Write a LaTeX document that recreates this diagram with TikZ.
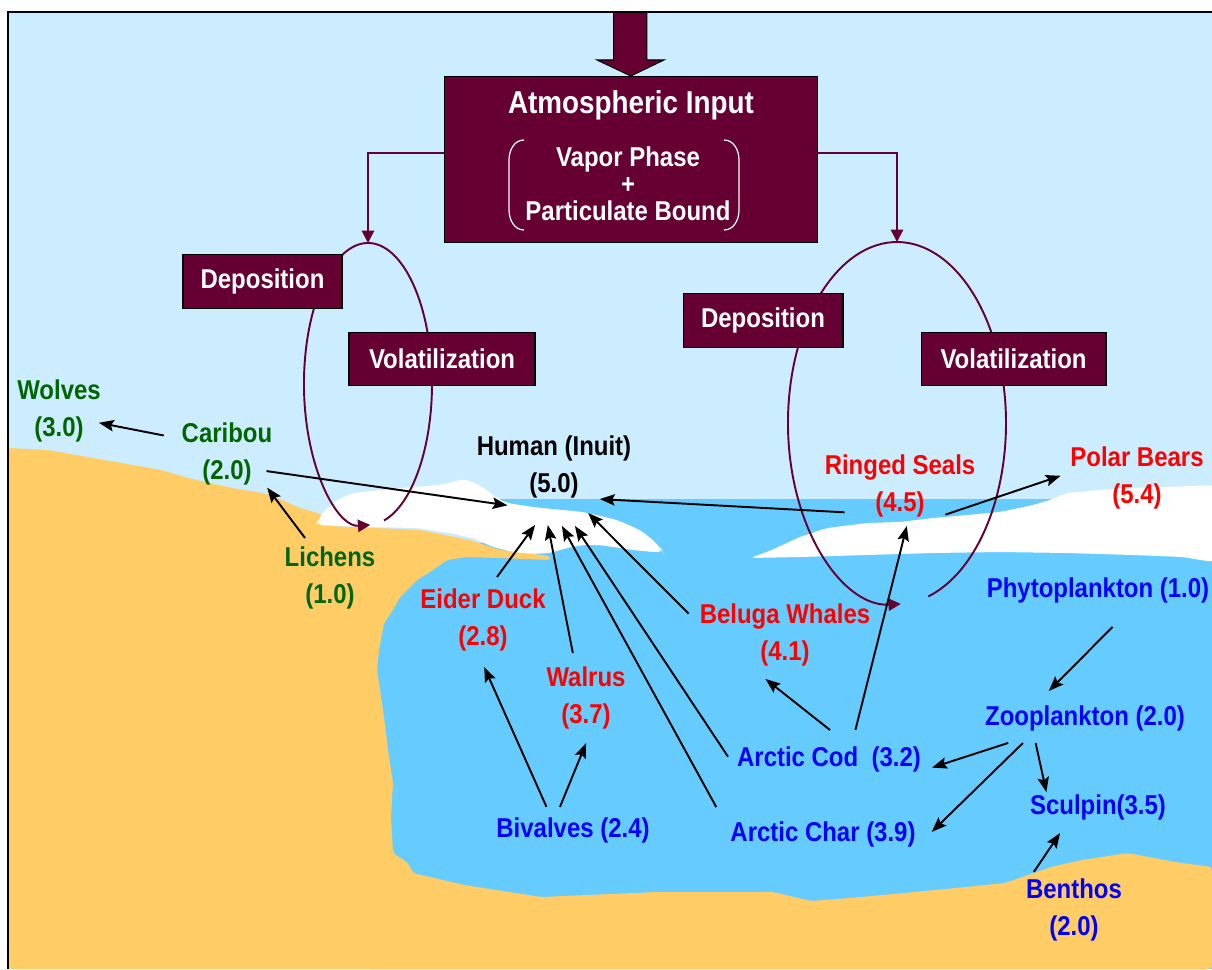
\documentclass[tikz,border=0pt]{standalone}
\usepackage{fontspec}
\setmainfont{Liberation Sans}[FakeStretch=0.88]
\usetikzlibrary{arrows.meta}
\definecolor{sky}{RGB}{204,236,255}
\definecolor{sea}{RGB}{102,204,255}
\definecolor{sand}{RGB}{255,204,102}
\definecolor{wine}{RGB}{102,0,51}
\definecolor{leaf}{RGB}{0,102,0}
\begin{document}
\begin{tikzpicture}[x=0.02cm,y=-0.02cm,
  lbl/.style={font=\bfseries\fontsize{15.5}{21.5}\selectfont,align=center,inner sep=1pt},
  wbox/.style={fill=wine,draw=black,line width=0.6pt,text=white,font=\bfseries\fontsize{15.5}{18}\selectfont},
  arr/.style={-{Stealth[length=8.5pt,width=6.5pt,inset=1.5pt]},line width=1.1pt},
  loopline/.style={wine,line width=1.1pt,-{Triangle[length=7pt,width=7pt]}}]
  \useasboundingbox (0,0) rectangle (1212,969);
  \clip (0,0) rectangle (1212,969);
  % sky, sea, land and ice
  \fill[white] (0,0) rectangle (1212,969);
  \fill[sky] (8,12) rectangle (1212,969);
  \fill[sea] (500,499) -- (1212,499) -- (1212,969) -- (370,969) -- (370,560) -- (500,540) -- cycle;
  \fill[sand,rounded corners=2pt] (8,448) -- (48,450) -- (161,470) -- (188,478) -- (232,488) -- (268,494)
    -- (300,508) -- (321,514) -- (330,526) -- (420,530) -- (470,540) -- (500,550) -- (550,556)
    -- (550,560) -- (500,558) -- (467,557) -- (447,560) -- (433,570) -- (417,580) -- (407,590)
    -- (400,597) -- (393,610) -- (384,623) -- (379,650) -- (377,670) -- (384,717) -- (388,750)
    -- (393,783) -- (391,817) -- (393,853) -- (408,863) -- (413,873) -- (464,885) -- (541,897)
    -- (657,892) -- (773,892) -- (811,901) -- (850,898) -- (904,893) -- (966,887) -- (1005,883)
    -- (1051,867) -- (1082,860) -- (1128,853) -- (1175,862) -- (1212,867) -- (1212,969) -- (8,969) -- cycle;
  \fill[white,rounded corners=3pt] (317,523) -- (323,512) -- (337,500) -- (353,493) -- (400,488)
    -- (440,485) -- (453,482) -- (463,479) -- (473,482) -- (487,490) -- (497,498) -- (507,503)
    -- (533,507) -- (583,512) -- (617,520) -- (640,530) -- (653,540) -- (662,550) -- (663,552)
    -- (653,552) -- (633,550) -- (600,545) -- (583,545) -- (567,548) -- (550,553) -- (533,554)
    -- (513,552) -- (493,547) -- (473,538) -- (450,533) -- (417,528) -- (367,527) -- (317,525) -- cycle;
  \fill[white,rounded corners=3pt] (750,558) -- (767,552) -- (800,537) -- (827,528) -- (867,523)
    -- (900,522) -- (933,518) -- (967,515) -- (1000,512) -- (1033,505) -- (1050,500) -- (1067,493)
    -- (1100,490) -- (1133,488) -- (1167,487) -- (1215,485) -- (1215,562) -- (1200,560) -- (1183,557)
    -- (1133,555) -- (1067,553) -- (1000,552) -- (933,553) -- (867,555) -- (800,557) -- cycle;
  % deposition / volatilization loops
  \coordinate (dropL) at (368,243);
  \coordinate (dropR) at (897,242);
  \draw[loopline] (384,520.5) arc[start angle=75.5,end angle=-272,x radius=64,y radius=141];
  \draw[loopline] (928.3,596.4) arc[start angle=73.3,end angle=-272,x radius=109,y radius=181];
  % atmospheric input
  \node[wbox,minimum width=7.46cm,minimum height=3.33cm] (input) at (630.8,159.4) {};
  \fill[wine,draw=black,line width=0.6pt] (613.7,12) -- (613.7,60) -- (597,60) -- (630.8,76)
    -- (664,60) -- (646.8,60) -- (646.8,12) -- cycle;
  \node[text=white,font=\bfseries\fontsize{18}{22}\selectfont] (title) at (631,105) {Atmospheric Input};
  \node[text=white,align=center,font=\bfseries\fontsize{15.5}{15.3}\selectfont] (phase) at (628,183.5)
    {Vapor Phase\\+\\Particulate Bound};
  \draw[white,line width=0.7pt] (524,140) to[out=180,in=90] (509,160) -- (509,210) to[out=-90,in=180] (524,230);
  \draw[white,line width=0.7pt] (724,140) to[out=0,in=90] (739,160) -- (739,210) to[out=-90,in=0] (724,230);
  \draw[loopline] (input.178) -| (dropL);
  \draw[loopline] (input.2) -| (dropR);
  \foreach \n/\x/\y/\w/\t in {depL/262.5/281.5/3.18/Deposition, volL/442/359/3.72/Volatilization,
      depR/763/320.5/3.2/Deposition, volR/1013.5/359/3.7/Volatilization}
    \node[wbox,minimum width=\w cm,minimum height=1.07cm] (\n) at (\x,\y) {\t};
  % food web
  \foreach \n/\x/\y/\c/\t in {
      wolves/59/411/leaf/{Wolves\\(3.0)},
      caribou/227/454/leaf/{Caribou\\(2.0)},
      lichens/330/578/leaf/{Lichens\\(1.0)},
      human/554/467/black/{Human (Inuit)\\(5.0)},
      eider/483/620/red/{Eider Duck\\(2.8)},
      walrus/586/698/red/{Walrus\\(3.7)},
      beluga/785/635/red/{Beluga Whales\\(4.1)},
      seals/900/486/red/{Ringed Seals\\(4.5)},
      bears/1137/478/red/{Polar Bears\\(5.4)},
      bivalves/573/830/blue/{Bivalves (2.4)},
      phyto/1098/590/blue/{Phytoplankton (1.0)},
      zoo/1085/718/blue/{Zooplankton (2.0)},
      cod/829/759/blue/{Arctic Cod\ \ (3.2)},
      char/823/834/blue/{Arctic Char (3.9)},
      sculpin/1098/807/blue/{Sculpin(3.5)},
      benthos/1074/910/blue/{Benthos\\(2.0)}}
    \node[lbl,text=\c] (\n) at (\x,\y) {\t};
  \foreach \a/\b/\s/\e in {
      caribou.162/wolves.-16/9.2pt/-2.3pt,
      lichens.121/caribou.-40/4.5pt/0pt,
      caribou.-21/human.south west/-4.5pt/-18.9pt,
      seals.-162.4/human.-24/-12.5pt/-17pt,
      seals.-13/bears.176/-19.2pt/4.6pt,
      eider.78/human.-92/6.6pt/17.1pt,
      walrus.108/human.-108/6.6pt/14.1pt,
      char.177/human.-100/14.2pt/16.4pt,
      cod.185/human.-83/7.2pt/17.3pt,
      beluga.172/human.-57/7.3pt/9.9pt,
      bivalves.147/eider.-98.5/5.2pt/8.3pt,
      bivalves.138/walrus.-82/5.1pt/7pt,
      cod.38/beluga.-134/13pt/9.4pt,
      cod.33/seals.-76/8.4pt/3.7pt,
      phyto.-22/zoo.163/17.8pt/9.8pt,
      zoo.-162/cod.-7/18.7pt/5.4pt,
      zoo.-164/char.-7/8.3pt/11.2pt,
      zoo.-164.4/sculpin.164/6pt/0pt,
      benthos.142/sculpin.-154/3pt/7.7pt}
    \draw[arr,shorten <=\s,shorten >=\e] (\a) -- (\b);
  % frame
  \draw[line width=1.2pt] (8,969) -- (8,12) -- (1212,12);
\end{tikzpicture}
\end{document}
